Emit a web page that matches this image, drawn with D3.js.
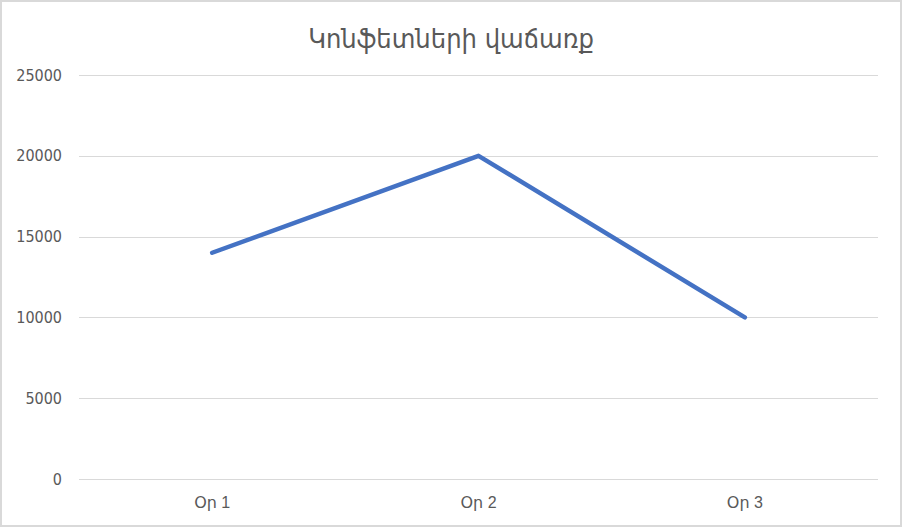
<!DOCTYPE html>
<meta charset="utf-8">
<title>Կոնֆետների վաճառք</title>
<style>
  body { margin: 0; background: #fff; }
  svg { display: block; }
  .grid line { stroke: #d9d9d9; stroke-width: 1; shape-rendering: crispEdges; }
  .axis text { fill: #595959; }
  .y.axis text { font: 16px "DejaVu Sans Condensed", "DejaVu Sans", sans-serif; }
  .x.axis text { font: 16px "Liberation Sans", "DejaVu Sans", sans-serif; }
  .title { fill: #595959; font: 27px "DejaVu Sans Condensed", "DejaVu Sans", sans-serif; }
  path.line { fill: none; stroke: #4472c4; stroke-width: 4.5; stroke-linecap: round; stroke-linejoin: round; }
</style>
<body>
<script src="https://d3js.org/d3.v7.min.js"></script>
<script>
  var days = ["Օր 1", "Օր 2", "Օր 3"];
  var sales = [14000, 20000, 10000];
  var yTicks = [0, 5000, 10000, 15000, 20000, 25000];

  var W = 902, H = 527;
  var margin = {top: 75, right: 24, bottom: 48, left: 79},
      width = W - margin.left - margin.right,
      height = H - margin.top - margin.bottom;

  var svg = d3.select("body").append("svg")
      .attr("width", W)
      .attr("height", H);

  // chart border
  svg.append("rect")
      .attr("x", 1).attr("y", 1)
      .attr("width", W - 2).attr("height", H - 2)
      .attr("fill", "#fff")
      .attr("stroke", "#d9d9d9")
      .attr("stroke-width", 2);

  svg.append("text")
      .attr("class", "title")
      .attr("x", W / 2)
      .attr("y", 48)
      .attr("text-anchor", "middle")
      .text("Կոնֆետների վաճառք");

  var g = svg.append("g")
      .attr("transform", "translate(" + margin.left + "," + margin.top + ")");

  var x = d3.scaleBand().domain(days).range([0, width]);
  var y = d3.scaleLinear().domain([0, 25000]).range([height, 0]);

  g.append("g")
      .attr("class", "grid")
      .selectAll("line")
      .data(yTicks)
      .join("line")
      .attr("x1", 0).attr("x2", width)
      .attr("y1", function(d) { return Math.round(y(d)) + 0.5; })
      .attr("y2", function(d) { return Math.round(y(d)) + 0.5; });

  var yAxis = g.append("g")
      .attr("class", "y axis")
      .call(d3.axisLeft(y).tickValues(yTicks).tickSize(0).tickPadding(17).tickFormat(d3.format("d")));
  yAxis.select(".domain").remove();

  var xAxis = g.append("g")
      .attr("class", "x axis")
      .attr("transform", "translate(0," + height + ")")
      .call(d3.axisBottom(x).tickSize(0).tickPadding(18));
  xAxis.select(".domain").remove();

  var line = d3.line()
      .x(function(d, i) { return x(days[i]) + x.bandwidth() / 2; })
      .y(function(d) { return y(d); });

  g.append("path")
      .datum(sales)
      .attr("class", "line")
      .attr("d", line);
</script>
</body>
